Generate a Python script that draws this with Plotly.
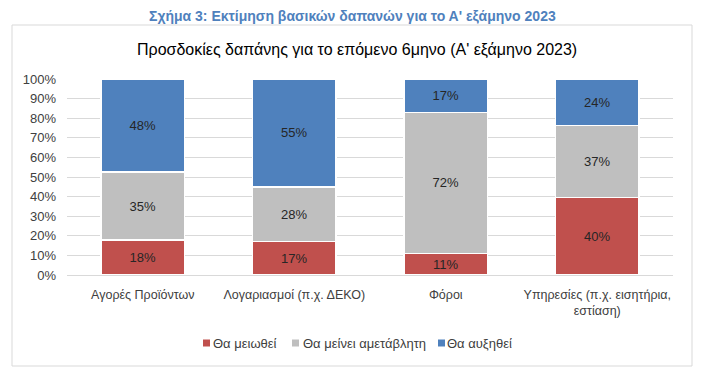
import plotly.graph_objects as go

categories = ["Αγορές Προϊόντων", "Λογαριασμοί (π.χ. ΔΕΚΟ)", "Φόροι",
              "Υπηρεσίες (π.χ. εισητήρια,<br>εστίαση)"]
series_names = ["Θα μειωθεί", "Θα μείνει αμετάβλητη", "Θα αυξηθεί"]
decrease = [18, 17, 11, 40]
unchanged = [35, 28, 72, 37]
increase = [48, 55, 17, 24]
colors = ["#c0504d", "#bfbfbf", "#4f81bd"]
y_ticks = list(range(0, 101, 10))
y_tick_labels = [f"{v}%" for v in y_ticks]

FONT = "Liberation Sans, Arial, sans-serif"

# page has an 8px body margin; work in page (reference) pixel coordinates
OFF = 8
W, H = 703 - OFF, 381 - OFF
PL, PR, PT, PB = 67, 673, 79, 275          # plot area in page coords
L, R, T, B = PL - OFF, W - (PR - OFF), PT - OFF, H - (PB - OFF)
pw, ph = PR - PL, PB - PT

def px(x):
    return (x - PL) / pw

def py(y):
    return (PB - y) / ph

fig = go.Figure()
for name, vals, col in zip(series_names, [decrease, unchanged, increase], colors):
    fig.add_trace(go.Bar(
        x=categories, y=vals, name=name,
        marker=dict(color=col, line=dict(color="white", width=1.5)),
        text=[f"{v}%" for v in vals], textposition="inside",
        insidetextanchor="middle", textangle=0,
        textfont=dict(family=FONT, size=13, color="#262626"),
        width=0.55, showlegend=False,
    ))

# custom legend (Excel style: small squares close to text)
legend_items = [(203, 211), (292, 301), (438, 445)]
shapes = [dict(type="rect", xref="paper", yref="paper",
               x0=px(12), x1=px(692), y0=py(366), y1=py(25),
               line=dict(color="#d9d9d9", width=1), fillcolor="rgba(0,0,0,0)", layer="below")]
annotations = [
    dict(text="<b>Σχήμα 3: Εκτίμηση βασικών δαπανών για το Α' εξάμηνο 2023</b>",
         xref="paper", yref="paper", x=px(352), y=py(16), xanchor="center", yanchor="middle",
         showarrow=False, font=dict(family=FONT, size=14, color="#4f81bd")),
    dict(text="Προσδοκίες δαπάνης για το επόμενο 6μηνο (Α' εξάμηνο 2023)",
         xref="paper", yref="paper", x=px(357), y=py(50), xanchor="center", yanchor="middle",
         showarrow=False, font=dict(family=FONT, size=16, color="black")),
]
for (mx, tx), name, col in zip(legend_items, series_names, colors):
    shapes.append(dict(type="rect", xref="paper", yref="paper",
                       x0=px(mx), x1=px(mx + 7), y0=py(346.5), y1=py(339.5),
                       line=dict(width=0), fillcolor=col))
    annotations.append(dict(text=name, xref="paper", yref="paper", x=px(tx), y=py(343),
                            xanchor="left", yanchor="middle", showarrow=False,
                            font=dict(family=FONT, size=13, color="#404040")))

fig.update_layout(
    width=W, height=H,
    margin=dict(l=L, r=R, t=T, b=B, autoexpand=False),
    barmode="stack", barnorm="percent",
    paper_bgcolor="white", plot_bgcolor="white",
    font=dict(family=FONT, size=13, color="#404040"),
    showlegend=False,
    xaxis=dict(showgrid=False, showline=True, linecolor="#d9d9d9", linewidth=1,
               ticks="", ticklabelstandoff=8,
               tickfont=dict(family=FONT, size=12.5, color="#404040")),
    yaxis=dict(range=[0, 100], tickvals=y_ticks, ticktext=y_tick_labels,
               showgrid=True, gridcolor="#d9d9d9", gridwidth=1, zeroline=False,
               showline=False, ticks="", ticklen=0, ticklabelstandoff=10,
               tickfont=dict(family=FONT, size=13, color="#404040")),
    shapes=shapes,
    annotations=annotations,
)

fig.write_html("out.html")
